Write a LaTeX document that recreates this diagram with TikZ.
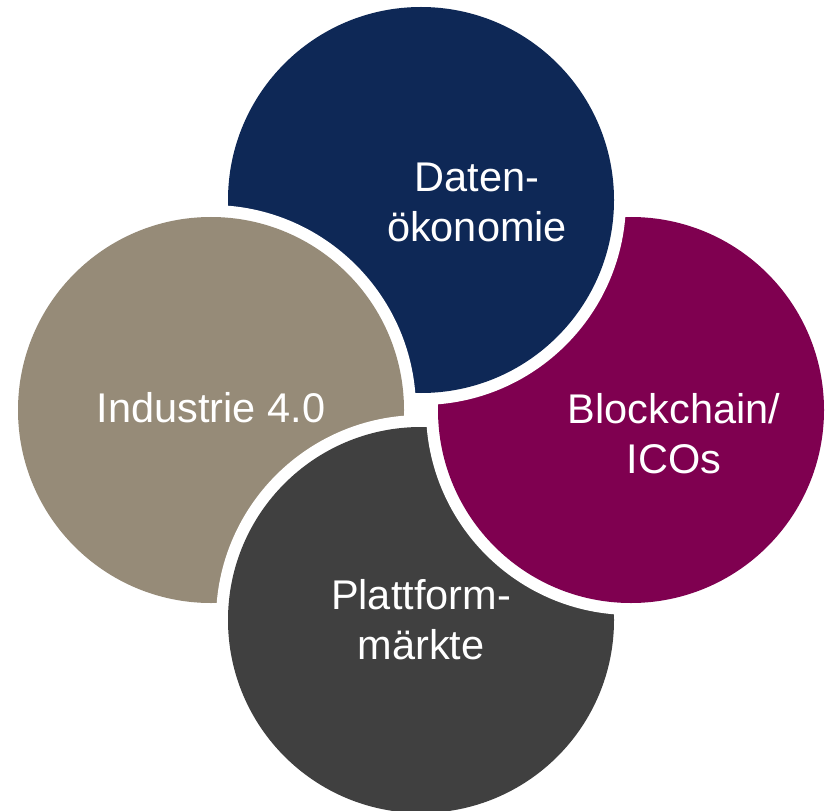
\documentclass[tikz,border=0pt]{standalone}
\usepackage{fontspec}
\setmainfont{Liberation Sans}
\definecolor{navyc}{RGB}{14,40,86}
\definecolor{purplec}{RGB}{127,0,80}
\definecolor{grayc}{RGB}{64,64,64}
\definecolor{beigec}{RGB}{150,139,120}
\tikzset{
  disc/.style={fill=#1},
  ring/.style={fill=white},
  lbl/.style={text=white, font=\fontsize{41.5}{50}\selectfont, align=center, inner sep=0pt, anchor=base}
}
\newcommand{\mydisc}[2]{%
  \fill[ring] (#1) circle[radius=205pt];
  \fill[disc=#2] (#1) circle[radius=193pt];
}
\begin{document}
\begin{tikzpicture}[x=1pt,y=-1pt]
\useasboundingbox (0,0) rectangle (834,810);
\coordinate (cn) at (421,200);
\coordinate (cb) at (211,410);
\coordinate (cg) at (421,620);
\coordinate (cp) at (631,410);
\mydisc{cn}{navyc}
\mydisc{cb}{beigec}
\mydisc{cg}{grayc}
\mydisc{cp}{purplec}
\begin{scope}
  \clip (421,-20) rectangle (850,420);
  \mydisc{cn}{navyc}
\end{scope}
\node[lbl] (tn) at (477,241) {Daten-\\ökonomie};
\node[lbl] (tb) at (211,422) {Industrie 4.0};
\node[lbl] (tp) at (674,473) {Blockchain/\\ICOs};
\node[lbl] (tg) at (421,659) {Plattform-\\märkte};
\end{tikzpicture}
\end{document}
